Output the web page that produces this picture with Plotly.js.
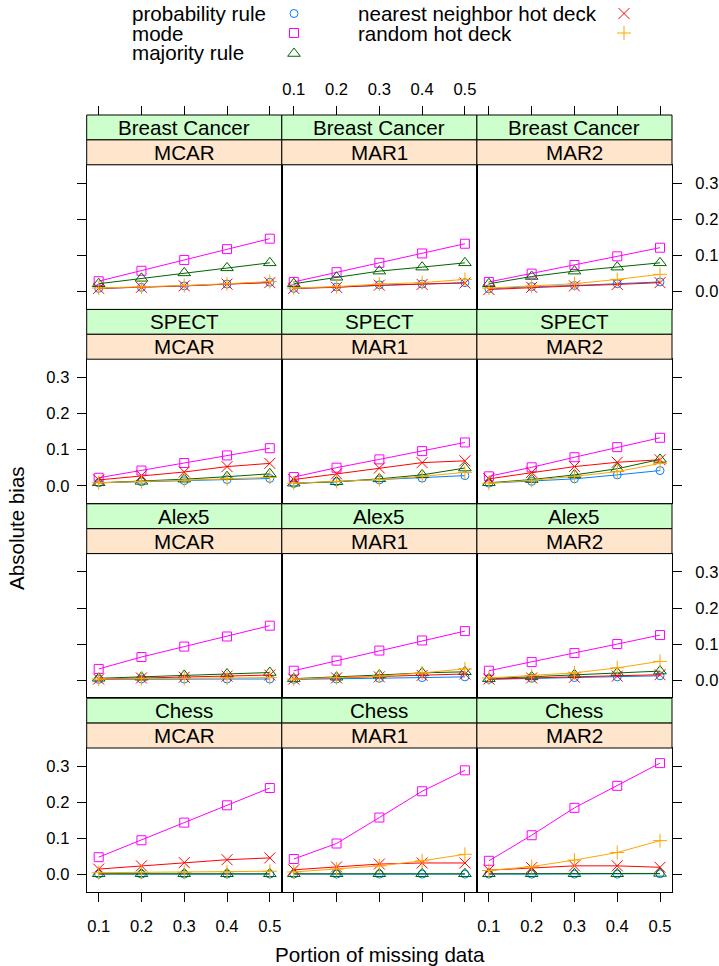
<!DOCTYPE html>
<html>
<head>
<meta charset="utf-8">
<script src="https://cdn.plot.ly/plotly-3.0.1.min.js"></script>
<style>html,body{margin:0;padding:0;background:#fff;}#plot{width:719px;height:966px;}</style>
</head>
<body>
<div id="plot"></div>
<script>
// ---------------- data ----------------
const datasets = ["Breast Cancer", "SPECT", "Alex5", "Chess"];
const mechanisms = ["MCAR", "MAR1", "MAR2"];
const portions = [0.1, 0.2, 0.3, 0.4, 0.5];
const xTickLabels = ["0.1", "0.2", "0.3", "0.4", "0.5"];
const yTickVals = [0, 0.1, 0.2, 0.3];
const yTickLabels = ["0.0", "0.1", "0.2", "0.3"];
const methodNames = ["probability rule", "mode", "majority rule", "nearest neighbor hot deck", "random hot deck"];

// each array: one row of 5 values per panel, order: dataset x mechanism
const probabilityRule = [
  [0.008, 0.011, 0.015, 0.020, 0.025], [0.008, 0.012, 0.018, 0.020, 0.024], [0.007, 0.013, 0.016, 0.021, 0.026],
  [0.008, 0.011, 0.014, 0.017, 0.020], [0.006, 0.011, 0.016, 0.021, 0.028], [0.007, 0.012, 0.019, 0.030, 0.042],
  [0.002, 0.003, 0.003, 0.003, 0.003], [0.002, 0.003, 0.005, 0.007, 0.009], [0.002, 0.005, 0.007, 0.009, 0.012],
  [0.001, 0.001, 0.001, 0.001, 0.001], [0.001, 0.001, 0.001, 0.001, 0.001], [0.001, 0.001, 0.001, 0.001, 0.002]
];
const modeRule = [
  [0.028, 0.057, 0.087, 0.117, 0.146], [0.026, 0.053, 0.079, 0.105, 0.132], [0.026, 0.049, 0.073, 0.097, 0.121],
  [0.022, 0.042, 0.063, 0.084, 0.104], [0.024, 0.050, 0.073, 0.096, 0.120], [0.026, 0.051, 0.079, 0.107, 0.133],
  [0.031, 0.064, 0.093, 0.121, 0.151], [0.026, 0.054, 0.082, 0.110, 0.136], [0.026, 0.050, 0.075, 0.100, 0.125],
  [0.048, 0.095, 0.144, 0.192, 0.240], [0.043, 0.086, 0.158, 0.231, 0.289], [0.038, 0.109, 0.185, 0.246, 0.309]
];
const majorityRule = [
  [0.021, 0.036, 0.051, 0.065, 0.079], [0.021, 0.039, 0.056, 0.067, 0.079], [0.021, 0.041, 0.056, 0.067, 0.079],
  [0.008, 0.012, 0.018, 0.025, 0.033], [0.007, 0.011, 0.019, 0.030, 0.049], [0.008, 0.017, 0.030, 0.047, 0.073],
  [0.005, 0.008, 0.013, 0.017, 0.021], [0.004, 0.008, 0.014, 0.020, 0.023], [0.004, 0.009, 0.015, 0.020, 0.025],
  [0.002, 0.002, 0.002, 0.002, 0.002], [0.002, 0.002, 0.002, 0.002, 0.002], [0.002, 0.002, 0.002, 0.002, 0.003]
];
const nearestNeighbor = [
  [0.008, 0.011, 0.015, 0.020, 0.024], [0.008, 0.011, 0.017, 0.019, 0.023], [0.005, 0.011, 0.015, 0.019, 0.024],
  [0.016, 0.028, 0.038, 0.053, 0.062], [0.017, 0.033, 0.049, 0.064, 0.069], [0.019, 0.037, 0.053, 0.065, 0.072],
  [0.003, 0.006, 0.008, 0.011, 0.014], [0.003, 0.006, 0.009, 0.013, 0.017], [0.003, 0.006, 0.008, 0.011, 0.015],
  [0.015, 0.024, 0.033, 0.041, 0.046], [0.013, 0.021, 0.029, 0.032, 0.032], [0.012, 0.019, 0.024, 0.024, 0.020]
];
const randomHotDeck = [
  [0.009, 0.012, 0.016, 0.021, 0.027], [0.009, 0.013, 0.020, 0.024, 0.033], [0.009, 0.014, 0.021, 0.033, 0.047],
  [0.008, 0.011, 0.015, 0.019, 0.023], [0.007, 0.012, 0.017, 0.026, 0.037], [0.007, 0.015, 0.026, 0.039, 0.062],
  [0.003, 0.004, 0.005, 0.006, 0.007], [0.003, 0.007, 0.011, 0.020, 0.031], [0.006, 0.012, 0.020, 0.034, 0.052],
  [0.005, 0.006, 0.006, 0.007, 0.009], [0.007, 0.015, 0.024, 0.038, 0.056], [0.011, 0.022, 0.040, 0.061, 0.094]
];

// ---------------- styling ----------------
const seriesData = [probabilityRule, modeRule, majorityRule, nearestNeighbor, randomHotDeck];
const colors = ["#0080ff", "#ff00ff", "#006400", "#ff0000", "#ffa500"];
const symbols = ["circle-open", "square-open", "triangle-up-open", "x-thin-open", "cross-thin-open"];
const sizes = [8, 9, 11, 11, 10];

const W = 719, H = 966;
const FONT = "Liberation Sans, Arial, Helvetica, sans-serif";
const TXT = 20.6, TICK = 16.6;
const colLeft = [86.7, 281.8, 476.9], colWidth = 195.1;
const firstStripTop = 115, rowPitch = 194.4, stripH = 24.9, panelH = 143.8;
const xRange = [0.072, 0.528], yRange = [-0.048, 0.351];
const px = v => v / W, py = v => 1 - v / H;

const traces = [];
const layout = {
  width: W, height: H, autosize: false,
  margin: {l: 0, r: 0, t: 0, b: 0, pad: 0},
  paper_bgcolor: "#ffffff", plot_bgcolor: "rgba(0,0,0,0)",
  showlegend: false,
  font: {family: FONT, size: TXT, color: "#000"},
  shapes: [], annotations: []
};

for (let r = 0; r < 4; r++) {
  const stripTop = firstStripTop + r * rowPitch;
  const pTop = stripTop + 2 * stripH;
  const pBot = pTop + panelH;
  for (let c = 0; c < 3; c++) {
    const k = r * 3 + c + 1;
    const xa = "xaxis" + (k === 1 ? "" : k), ya = "yaxis" + (k === 1 ? "" : k);
    const xid = "x" + (k === 1 ? "" : k), yid = "y" + (k === 1 ? "" : k);
    const x0 = colLeft[c], x1 = colLeft[c] + colWidth;
    layout[xa] = {
      domain: [px(x0), px(x1)], anchor: yid, range: xRange, fixedrange: true,
      showline: true, mirror: true, linecolor: "#000", linewidth: 1,
      showgrid: false, zeroline: false,
      tickvals: portions, ticktext: xTickLabels,
      ticks: r === 3 ? "outside" : "", ticklen: 9, tickwidth: 1, tickcolor: "#000",
      showticklabels: r === 3 && c !== 1, ticklabelstandoff: 10,
      tickfont: {family: FONT, size: TICK, color: "#000"}
    };
    layout[ya] = {
      domain: [py(pBot), py(pTop)], anchor: xid, range: yRange, fixedrange: true,
      showline: true, mirror: true, linecolor: "#000", linewidth: 1,
      showgrid: false, zeroline: false,
      tickvals: yTickVals, ticktext: yTickLabels,
      ticks: c === 1 ? "" : "outside", ticklen: 9, tickwidth: 1, tickcolor: "#000",
      side: c === 2 ? "right" : "left",
      showticklabels: (c === 0 && (r === 1 || r === 3)) || (c === 2 && (r === 0 || r === 2)),
      ticklabelstandoff: c === 2 ? 10 : 4,
      tickfont: {family: FONT, size: TICK, color: "#000"}
    };

    const panelIndex = r * 3 + c;
    for (let s = 0; s < seriesData.length; s++) {
      traces.push({
        type: "scatter", mode: "lines+markers",
        x: portions, y: seriesData[s][panelIndex],
        xaxis: xid, yaxis: yid, name: methodNames[s],
        line: {color: colors[s], width: 1},
        marker: {symbol: symbols[s], size: sizes[s], color: colors[s], line: {color: colors[s], width: 1}},
        cliponaxis: false, hoverinfo: "skip"
      });
    }

    // strips
    const stripDefs = [
      {top: stripTop, fill: "#ccffcc", text: datasets[r]},
      {top: stripTop + stripH, fill: "#ffe5cc", text: mechanisms[c]}
    ];
    for (const sd of stripDefs) {
      layout.shapes.push({
        type: "rect", xref: "paper", yref: "paper",
        x0: px(x0), x1: px(x1), y0: py(sd.top + stripH), y1: py(sd.top),
        fillcolor: sd.fill, line: {color: "#000", width: 1}, layer: "above"
      });
      layout.annotations.push({
        xref: "paper", yref: "paper", x: px((x0 + x1) / 2), y: py(sd.top + stripH / 2),
        xanchor: "center", yanchor: "middle", showarrow: false,
        text: sd.text, font: {family: FONT, size: TXT, color: "#000"}
      });
    }
  }
}

// top axes above the first row of strips
for (let c = 0; c < 3; c++) {
  const k = 13 + c;
  const base = c === 0 ? "x" : "x" + (c + 1);
  layout["xaxis" + k] = {
    overlaying: base, anchor: "free", position: py(firstStripTop), side: "top",
    range: xRange, fixedrange: true, showline: false, showgrid: false, zeroline: false,
    tickvals: portions, ticktext: xTickLabels,
    ticks: "outside", ticklen: 9, tickwidth: 1, tickcolor: "#000",
    showticklabels: c === 1, ticklabelstandoff: 4,
    tickfont: {family: FONT, size: TICK, color: "#000"}
  };
  traces.push({
    type: "scatter", mode: "markers", x: portions, y: modeRule[c],
    xaxis: "x" + k, yaxis: c === 0 ? "y" : "y" + (c + 1),
    marker: {opacity: 0}, hoverinfo: "skip", showlegend: false
  });
}

// legend key (symbols in a small helper subplot, text as annotations)
const legendLeftX = 130, legendRightX = 356;
const legendSymLeft = 294, legendSymRight = 624;
const legendRowsY = [13.5, 33, 52.5];
const legendPos = [
  [legendLeftX, legendSymLeft, legendRowsY[0]],
  [legendLeftX, legendSymLeft, legendRowsY[1]],
  [legendLeftX, legendSymLeft, legendRowsY[2]],
  [legendRightX, legendSymRight, legendRowsY[0]],
  [legendRightX, legendSymRight, legendRowsY[1]]
];
layout.xaxis16 = {domain: [0, 1], range: [0, W], visible: false, fixedrange: true, anchor: "y16"};
layout.yaxis16 = {domain: [py(70), 1], range: [70, 0], visible: false, fixedrange: true, anchor: "x16"};
for (let s = 0; s < methodNames.length; s++) {
  const [tx, sx, sy] = legendPos[s];
  traces.push({
    type: "scatter", mode: "markers", x: [sx], y: [sy + (s === 2 ? 1 : 0)],
    xaxis: "x16", yaxis: "y16",
    marker: {symbol: symbols[s], size: sizes[s], color: colors[s], line: {color: colors[s], width: 1}},
    hoverinfo: "skip", cliponaxis: false
  });
  layout.annotations.push({
    xref: "paper", yref: "paper", x: px(tx), y: py(sy), xanchor: "left", yanchor: "middle",
    showarrow: false, text: methodNames[s], font: {family: FONT, size: TXT, color: "#000"}
  });
}

// axis titles
layout.annotations.push({
  xref: "paper", yref: "paper", x: px(379.5), y: py(954), xanchor: "center", yanchor: "middle",
  showarrow: false, text: "Portion of missing data", font: {family: FONT, size: TXT, color: "#000"}
});
layout.annotations.push({
  xref: "paper", yref: "paper", x: px(16), y: py(528), xanchor: "center", yanchor: "middle",
  showarrow: false, textangle: -90, text: "Absolute bias", font: {family: FONT, size: TXT, color: "#000"}
});

Plotly.newPlot("plot", traces, layout, {staticPlot: true, displayModeBar: false});
</script>
</body>
</html>
